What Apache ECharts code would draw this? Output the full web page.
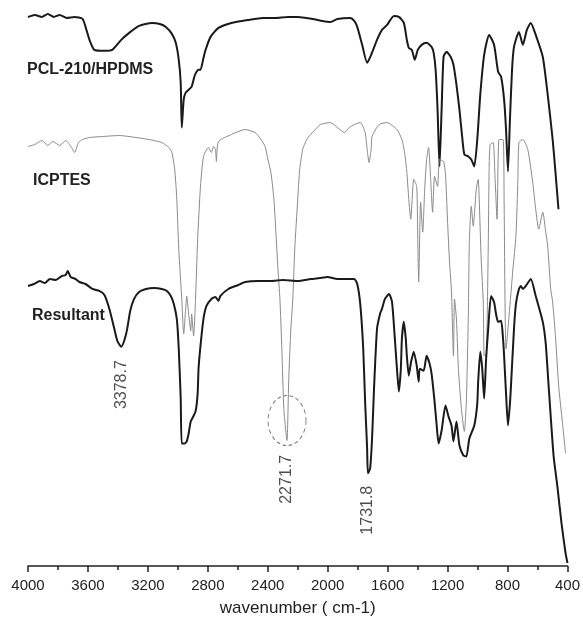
<!DOCTYPE html>
<html>
<head>
    <meta charset="UTF-8">
    <title>FTIR</title>
    <script src="https://cdn.jsdelivr.net/npm/echarts@6/dist/echarts.min.js"></script>
</head>
<body style="margin:0;background:#fff;overflow:hidden;">
<div id="main" style="width:583px;height:622px;"></div>
<script type="text/javascript">
    // wavenumber (cm-1) and offset transmittance (a.u.)
    var pclWave = [4000, 3954, 3907, 3868, 3828, 3788, 3742, 3689, 3636, 3610, 3590, 3557, 3490, 3438, 3378, 3325, 3259, 3173, 3120, 3080,
        3040, 3014, 2994, 2981, 2974, 2961, 2948, 2928, 2908, 2888, 2875, 2862, 2849, 2829, 2815, 2782, 2729, 2643, 2531, 2432,
        2352, 2266, 2200, 2101, 2035, 1982, 1935, 1849, 1823, 1803, 1770, 1737, 1710, 1671, 1638, 1604, 1558, 1525, 1492, 1472,
        1459, 1439, 1419, 1399, 1373, 1340, 1307, 1293, 1280, 1267, 1254, 1240, 1227, 1207, 1180, 1161, 1141, 1121, 1101, 1088,
        1062, 1042, 1022, 1002, 982, 956, 923, 890, 863, 843, 823, 810, 797, 784, 770, 757, 724, 698, 671, 645,
        612, 565, 532, 499, 479, 460];
    var pclT = [551, 553, 551, 554, 551, 553, 550, 551, 549, 538, 528, 518, 517, 518, 528, 535, 542, 545, 544, 541,
        534, 525, 508, 485, 440, 468, 475, 478, 481, 492, 496, 498, 498, 510, 518, 531, 540, 545, 548, 550,
        550, 551, 551, 549, 547, 546, 549, 550, 547, 541, 523, 505, 513, 528, 538, 543, 552, 551, 545, 528,
        520, 518, 508, 518, 523, 525, 521, 515, 498, 458, 401, 458, 511, 516, 511, 503, 483, 458, 428, 413,
        411, 408, 401, 428, 473, 513, 533, 523, 496, 491, 468, 438, 396, 448, 498, 521, 536, 523, 538, 545,
        533, 511, 473, 428, 393, 358];

    var icpWave = [4000, 3954, 3907, 3868, 3834, 3788, 3749, 3709, 3689, 3663, 3636, 3590, 3504, 3391, 3279, 3193, 3107, 3060, 3040, 3021,
        3007, 2994, 2974, 2961, 2948, 2941, 2928, 2914, 2908, 2895, 2882, 2868, 2849, 2829, 2796, 2776, 2762, 2749, 2743, 2729,
        2643, 2551, 2485, 2445, 2418, 2399, 2379, 2359, 2346, 2332, 2319, 2306, 2293, 2272, 2260, 2246, 2233, 2220, 2200, 2187,
        2167, 2140, 2114, 2048, 1982, 1935, 1888, 1856, 1823, 1783, 1750, 1737, 1724, 1710, 1704, 1657, 1604, 1538, 1505, 1485,
        1472, 1459, 1446, 1426, 1406, 1399, 1393, 1380, 1366, 1353, 1340, 1327, 1313, 1300, 1287, 1267, 1254, 1227, 1214, 1201,
        1187, 1174, 1161, 1154, 1141, 1128, 1108, 1095, 1088, 1075, 1062, 1055, 1042, 1029, 1009, 996, 989, 976, 962, 956,
        943, 929, 923, 916, 896, 883, 870, 857, 830, 823, 817, 810, 790, 764, 744, 731, 724, 698, 665, 632,
        612, 592, 565, 545, 532, 512, 499, 479, 459, 433, 413];
    var icpT = [421, 423, 427, 422, 426, 422, 427, 420, 415, 425, 428, 430, 431, 432, 430, 428, 425, 420, 415, 398,
        368, 318, 268, 233, 258, 271, 253, 236, 253, 231, 268, 328, 381, 411, 420, 415, 421, 418, 406, 426,
        433, 438, 435, 428, 421, 408, 395, 368, 335, 298, 268, 218, 158, 126, 188, 238, 268, 318, 368, 398,
        418, 428, 433, 443, 445, 440, 435, 440, 443, 445, 435, 418, 405, 418, 431, 443, 445, 438, 428, 413,
        395, 368, 348, 388, 381, 328, 285, 365, 335, 378, 408, 420, 388, 355, 391, 381, 408, 406, 393, 348,
        305, 275, 211, 268, 248, 198, 158, 141, 135, 165, 248, 325, 361, 341, 378, 388, 368, 308, 265, 211,
        211, 318, 398, 423, 425, 388, 348, 428, 428, 368, 268, 218, 251, 298, 331, 388, 425, 428, 418, 385,
        358, 338, 355, 335, 321, 278, 265, 228, 181, 143, 113];

    var resWave = [4000, 3960, 3921, 3887, 3854, 3815, 3775, 3749, 3735, 3715, 3682, 3656, 3616, 3570, 3524, 3490, 3457, 3424, 3404, 3378,
        3358, 3338, 3318, 3292, 3259, 3213, 3160, 3107, 3073, 3047, 3027, 3007, 2994, 2981, 2974, 2954, 2941, 2928, 2914, 2882,
        2868, 2862, 2849, 2829, 2809, 2776, 2749, 2729, 2716, 2663, 2597, 2551, 2465, 2379, 2299, 2200, 2114, 2054, 2002, 1935,
        1869, 1823, 1803, 1783, 1763, 1750, 1737, 1731.8, 1717, 1704, 1691, 1671, 1651, 1638, 1618, 1591, 1571, 1552, 1538, 1525,
        1512, 1505, 1492, 1479, 1472, 1459, 1446, 1439, 1426, 1406, 1393, 1386, 1360, 1340, 1320, 1307, 1287, 1274, 1260, 1240,
        1214, 1194, 1174, 1161, 1141, 1121, 1095, 1075, 1055, 1022, 1002, 996, 982, 969, 956, 943, 929, 910, 890, 877,
        863, 843, 830, 823, 810, 797, 784, 777, 757, 744, 724, 711, 698, 678, 645, 612, 565, 545, 526, 493,
        466, 440, 413, 400];
    var resT = [281, 283, 286, 284, 288, 287, 291, 292, 296, 290, 288, 285, 283, 278, 276, 272, 258, 238, 226, 220,
        226, 238, 256, 268, 275, 278, 279, 278, 276, 271, 263, 248, 218, 168, 123, 123, 125, 133, 145, 155,
        173, 198, 221, 248, 261, 268, 270, 266, 271, 278, 282, 285, 286, 286, 287, 286, 288, 289, 290, 288,
        288, 288, 283, 263, 218, 163, 118, 93, 98, 128, 178, 238, 253, 258, 268, 273, 265, 228, 198, 175,
        198, 228, 245, 228, 211, 191, 203, 208, 215, 201, 185, 198, 196, 211, 203, 193, 165, 143, 123, 136,
        161, 150, 141, 125, 145, 121, 111, 110, 128, 141, 163, 185, 215, 198, 168, 208, 238, 271, 265, 253,
        245, 246, 228, 211, 173, 141, 163, 181, 238, 263, 278, 281, 278, 281, 288, 271, 245, 223, 181, 111,
        78, 43, 13, 3];

    var seriesNames = ['PCL-210/HPDMS', 'ICPTES', 'Resultant'];
    var peakWave = [3378.7, 2271.7, 1731.8];
    var peakLabelT = [182, 87, 56];
    var xTicks = [4000, 3600, 3200, 2800, 2400, 2000, 1600, 1200, 800, 400];

    function zip(w, t) {
        var out = [];
        for (var i = 0; i < w.length; i++) {
            out.push([w[i], t[i]]);
        }
        return out;
    }

    var myChart = echarts.init(document.getElementById('main'));

    var option = {
        backgroundColor: '#ffffff',
        animation: false,
        grid: {left: 28, right: 11, top: 0, bottom: 54},
        xAxis: {
            type: 'value',
            inverse: true,
            min: xTicks[xTicks.length - 1],
            max: xTicks[0],
            interval: 400,
            name: 'wavenumber ( cm-1)',
            nameLocation: 'middle',
            nameGap: 34,
            nameTextStyle: {fontFamily: 'Liberation Sans', fontSize: 17, color: '#222'},
            axisLine: {lineStyle: {color: '#222', width: 1.5}},
            axisTick: {show: true, inside: false, length: 6, lineStyle: {color: '#222', width: 1.5}},
            minorTick: {show: true, splitNumber: 2, length: 4, lineStyle: {color: '#222', width: 1.5}},
            axisLabel: {
                fontFamily: 'Liberation Sans', fontSize: 15, color: '#222', margin: 12,
                formatter: function (v) {
                    return String(v);
                }
            },
            splitLine: {show: false}
        },
        yAxis: {
            type: 'value',
            min: 0,
            max: 568,
            show: false
        },
        graphic: [
            {type: 'text', left: 27, top: 62, style: {text: seriesNames[0], font: 'bold 16px "Liberation Sans"', fill: '#222'}},
            {type: 'text', left: 33, top: 173, style: {text: seriesNames[1], font: 'bold 16px "Liberation Sans"', fill: '#222'}},
            {type: 'text', left: 32, top: 308, style: {text: seriesNames[2], font: 'bold 16px "Liberation Sans"', fill: '#222'}}
        ],
        series: [
            {
                name: seriesNames[0],
                type: 'line',
                symbol: 'none',
                smooth: 0.2,
                lineStyle: {color: '#1a1a1a', width: 2},
                data: zip(pclWave, pclT)
            },
            {
                name: seriesNames[1],
                type: 'line',
                symbol: 'none',
                smooth: 0.2,
                lineStyle: {color: '#8a8a8a', width: 1},
                data: zip(icpWave, icpT)
            },
            {
                name: seriesNames[2],
                type: 'line',
                symbol: 'none',
                smooth: 0.2,
                lineStyle: {color: '#1a1a1a', width: 2},
                data: zip(resWave, resT)
            },
            {
                // dashed circle round the isocyanate peak
                type: 'scatter',
                symbol: 'circle',
                symbolSize: [38, 50],
                itemStyle: {color: 'transparent', borderColor: '#555', borderWidth: 1, borderType: [4, 3]},
                data: [[peakWave[1], 146]],
                silent: true
            },
            {
                type: 'scatter',
                symbolSize: 1,
                itemStyle: {color: 'transparent'},
                label: {
                    show: true,
                    position: 'inside',
                    rotate: 90,
                    fontFamily: 'Liberation Sans',
                    fontSize: 16,
                    color: '#222',
                    formatter: function (p) {
                        return p.value[0].toFixed(1);
                    }
                },
                data: zip(peakWave, peakLabelT),
                silent: true
            }
        ]
    };

    myChart.setOption(option);
</script>
</body>
</html>
